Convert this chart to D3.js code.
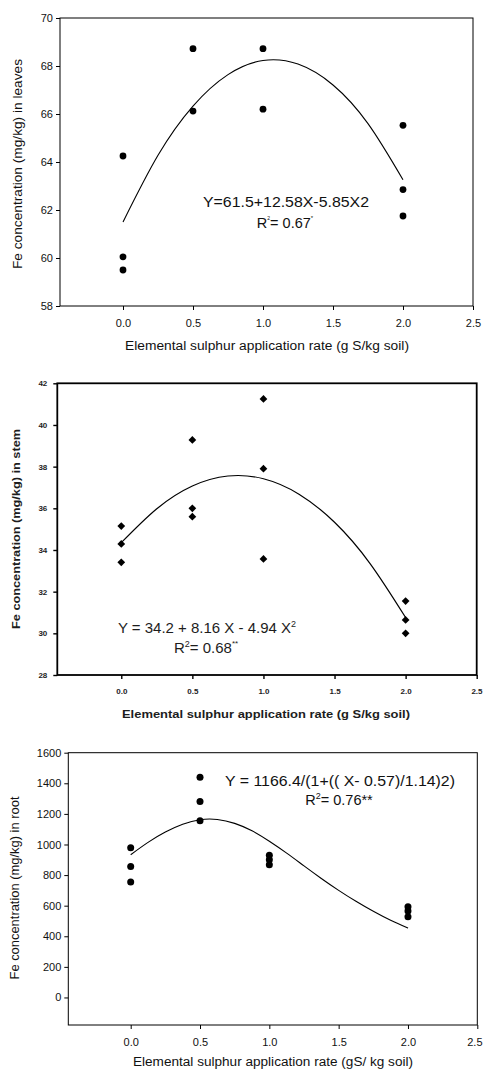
<!DOCTYPE html>
<html>
<head>
<meta charset="utf-8">
<script src="https://cdn.jsdelivr.net/npm/d3@7/dist/d3.min.js"></script>
<style>
  html, body { margin: 0; padding: 0; background: #fff; }
  svg { display: block; font-family: "Liberation Sans", Arial, sans-serif; }
</style>
</head>
<body>
<svg id="chart" width="483" height="1070"></svg>
<script>
// ---------- DATA ----------
const xTicks = [0.0, 0.5, 1.0, 1.5, 2.0, 2.5];

// Panel 1: leaves
const leafX = [0, 0, 0, 0.5, 0.5, 1, 1, 2, 2, 2];
const leafY = [64.25, 60.05, 59.5, 68.72, 66.12, 68.72, 66.2, 65.53, 62.85, 61.75];
const leafTicks = [58, 60, 62, 64, 66, 68, 70];
const leafCurveX = [0, 0.25, 0.5, 0.75, 1, 1.25, 1.5, 1.75, 2];
const leafCurveY = [61.5, 64.28, 66.33, 67.64, 68.23, 68.08, 67.21, 65.60, 63.26];

// Panel 2: stem
const stemX = [0, 0, 0, 0.5, 0.5, 0.5, 1, 1, 1, 2, 2, 2];
const stemY = [35.15, 34.29, 33.41, 39.28, 36.0, 35.6, 41.25, 37.9, 33.57, 31.55, 30.64, 30.0];
const stemTicks = [28, 30, 32, 34, 36, 38, 40, 42];
const stemCurveX = [0, 0.25, 0.5, 0.75, 1, 1.25, 1.5, 1.75, 2];
const stemCurveY = [34.35, 35.98, 37.07, 37.55, 37.42, 36.68, 35.33, 33.35, 30.76];

// Panel 3: root
const rootX = [0, 0, 0, 0.5, 0.5, 0.5, 1, 1, 1, 2, 2, 2];
const rootY = [978, 856, 754, 1440, 1281, 1155, 930, 900, 868, 593, 566, 527];
const rootTicks = [0, 200, 400, 600, 800, 1000, 1200, 1400, 1600];
const rootCurveX = [0, 0.125, 0.25, 0.375, 0.5, 0.625, 0.75, 0.875, 1, 1.125, 1.25, 1.375, 1.5, 1.625, 1.75, 1.875, 2];
const rootCurveY = [933.1, 1013.8, 1081.2, 1132.2, 1162.0, 1163.6, 1138.0, 1089.4, 1021.1, 943.4, 860.3, 778.1, 700.3, 628.6, 563.1, 504.3, 453.2];

// ---------- DRAW ----------
const svg = d3.select("#chart");

function drawPanel(o) {
  const g = svg.append("g");
  const x = d3.scaleLinear().domain(o.xDomain).range([o.left, o.right]);
  const y = d3.scaleLinear().domain(o.yDomain).range([o.bottom, o.top]);

  const ax = g.append("g").attr("transform", `translate(0,${o.bottom})`)
    .call(d3.axisBottom(x).tickValues(xTicks).tickFormat(d3.format(".1f"))
      .tickSize(4).tickPadding(o.xPad));
  const ay = g.append("g").attr("transform", `translate(${o.left},0)`)
    .call(d3.axisLeft(y).tickValues(o.yTicks).tickFormat(d3.format("d"))
      .tickSize(4).tickPadding(o.yPad));
  [ax, ay].forEach(a => {
    a.select(".domain").remove();
    a.selectAll("line").attr("stroke", "#000").attr("stroke-width", o.tickW);
    a.selectAll("text").attr("fill", o.textColor)
      .style("font-size", o.tickFont + "px")
      .style("font-weight", o.tickBold ? "bold" : "normal")
      .style("font-family", '"Liberation Sans", Arial, sans-serif');
  });
  // keep the last x label inside the page
  ax.selectAll(".tick text").filter(d => d === 2.5 && x(d) + 8 > 483)
    .attr("text-anchor", "end").attr("x", 483 - 1 - x(2.5));

  g.append("rect").attr("x", o.left).attr("y", o.top)
    .attr("width", o.right - o.left).attr("height", o.bottom - o.top)
    .attr("fill", "none").attr("stroke", "#000").attr("stroke-width", o.frameW);

  const line = d3.line().x(d => x(d[0])).y(d => y(d[1])).curve(d3.curveNatural);
  g.append("path").datum(o.cx.map((v, i) => [v, o.cy[i]]))
    .attr("d", line).attr("fill", "none").attr("stroke", "#000")
    .attr("stroke-width", o.curveW);

  const pts = o.px.map((v, i) => [v, o.py[i]]);
  if (o.marker === "circle") {
    g.selectAll("circle.pt").data(pts).join("circle").attr("class", "pt")
      .attr("cx", d => x(d[0])).attr("cy", d => y(d[1])).attr("r", o.r).attr("fill", "#000");
  } else {
    const sym = d3.symbol().type(d3.symbolSquare).size(o.symSize);
    g.selectAll("path.pt").data(pts).join("path").attr("class", "pt")
      .attr("d", sym)
      .attr("transform", d => `translate(${x(d[0])},${y(d[1])}) rotate(45)`)
      .attr("fill", "#000");
  }

  g.append("text").attr("x", o.xTitle[0]).attr("y", o.xTitle[1])
    .attr("text-anchor", "middle").attr("dominant-baseline", "middle")
    .attr("fill", o.textColor)
    .attr("textLength", o.xTitleLen).attr("lengthAdjust", "spacingAndGlyphs")
    .style("font-size", o.titleFont + "px").style("font-weight", o.titleBold ? "bold" : "normal")
    .text(o.xLabel);
  g.append("text")
    .attr("transform", `translate(${o.yTitle[0]},${o.yTitle[1]}) rotate(-90)`)
    .attr("text-anchor", "middle").attr("dominant-baseline", "middle")
    .attr("fill", o.textColor)
    .attr("textLength", o.yTitleLen).attr("lengthAdjust", "spacingAndGlyphs")
    .style("font-size", o.titleFont + "px").style("font-weight", o.titleBold ? "bold" : "normal")
    .text(o.yLabel);
  return g;
}

// Panel 1
const g1 = drawPanel({
  xDomain: [-0.45, 2.5], yDomain: [58, 70],
  left: 60, right: 473, top: 18, bottom: 306,
  yTicks: leafTicks, xPad: 9, yPad: 3, tickW: 1, frameW: 1,
  tickFont: 11, tickBold: false, textColor: "#111",
  cx: leafCurveX, cy: leafCurveY, curveW: 1.1,
  px: leafX, py: leafY, marker: "circle", r: 3.4,
  xLabel: "Elemental sulphur application rate (g S/kg soil)", xTitle: [267, 347], xTitleLen: 284,
  yLabel: "Fe concentration (mg/kg) in leaves", yTitle: [19, 164], yTitleLen: 210,
  titleFont: 12.5, titleBold: false
});
g1.append("text").attr("x", 286).attr("y", 207).attr("text-anchor", "middle")
  .attr("textLength", 166).attr("lengthAdjust", "spacingAndGlyphs")
  .style("font-size", "14.5px").attr("fill", "#111").text("Y=61.5+12.58X-5.85X2");
const r1 = g1.append("text").attr("x", 285).attr("y", 228).attr("text-anchor", "middle")
  .style("font-size", "14.5px").attr("fill", "#111");
r1.append("tspan").text("R");
r1.append("tspan").attr("dy", -8).style("font-size", "5px").text("2");
r1.append("tspan").attr("dy", 8).text("= 0.67");
r1.append("tspan").attr("dy", -8).style("font-size", "6px").text("*");

// Panel 2
const g2 = drawPanel({
  xDomain: [-0.45, 2.5], yDomain: [28, 42],
  left: 57.3, right: 476.7, top: 383.3, bottom: 675,
  yTicks: stemTicks, xPad: 9, yPad: 6, tickW: 1.4, frameW: 1.8,
  tickFont: 8, tickBold: true, textColor: "#1d1d1d",
  cx: stemCurveX, cy: stemCurveY, curveW: 1.2,
  px: stemX, py: stemY, marker: "diamond", symSize: 30,
  xLabel: "Elemental sulphur application rate (g S/kg soil)", xTitle: [266, 715], xTitleLen: 288,
  yLabel: "Fe concentration (mg/kg) in stem", yTitle: [17, 529], yTitleLen: 200,
  titleFont: 11.5, titleBold: true
});
g2.append("text").attr("x", 207).attr("y", 633).attr("text-anchor", "middle")
  .style("font-size", "15px").attr("fill", "#1d1d1d")
  .call(t => {
    t.append("tspan").text("Y = 34.2 + 8.16 X - 4.94 X");
    t.append("tspan").attr("dy", -6).style("font-size", "9px").text("2");
  });
g2.append("text").attr("x", 206).attr("y", 653).attr("text-anchor", "middle")
  .style("font-size", "15px").attr("fill", "#1d1d1d")
  .call(t => {
    t.append("tspan").text("R");
    t.append("tspan").attr("dy", -6).style("font-size", "9px").text("2");
    t.append("tspan").attr("dy", 6).text("= 0.68");
    t.append("tspan").attr("dy", -7).style("font-size", "8px").text("**");
  });

// Panel 3
const g3 = drawPanel({
  xDomain: [-0.45, 2.5], yDomain: [-180, 1600],
  left: 68.3, right: 477.3, top: 752.7, bottom: 1025,
  yTicks: rootTicks, xPad: 9, yPad: 3, tickW: 1, frameW: 1,
  tickFont: 11, tickBold: false, textColor: "#111",
  cx: rootCurveX, cy: rootCurveY, curveW: 1.1,
  px: rootX, py: rootY, marker: "circle", r: 3.5,
  xLabel: "Elemental sulphur application rate (gS/ kg soil)", xTitle: [273, 1063], xTitleLen: 280,
  yLabel: "Fe concentration (mg/kg) in root", yTitle: [16, 888], yTitleLen: 183,
  titleFont: 12.5, titleBold: false
});
g3.append("text").attr("x", 340).attr("y", 786).attr("text-anchor", "middle")
  .attr("textLength", 230).attr("lengthAdjust", "spacingAndGlyphs")
  .style("font-size", "14.5px").attr("fill", "#111").text("Y = 1166.4/(1+(( X- 0.57)/1.14)2)");
g3.append("text").attr("x", 339).attr("y", 805).attr("text-anchor", "middle")
  .style("font-size", "14.5px").attr("fill", "#111")
  .call(t => {
    t.append("tspan").text("R");
    t.append("tspan").attr("dy", -6).style("font-size", "9px").text("2");
    t.append("tspan").attr("dy", 6).text("= 0.76**");
  });
</script>
</body>
</html>
